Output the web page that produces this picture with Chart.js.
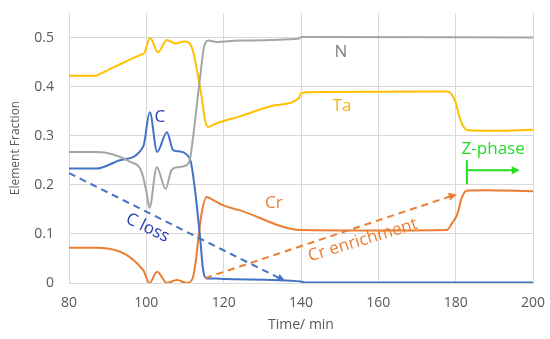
<!DOCTYPE html>
<html>
<head>
<meta charset="utf-8">
<script src="https://cdn.jsdelivr.net/npm/chart.js"></script>
<style>
  body { margin: 0; background: #fff; }
  canvas { display: block; }
</style>
</head>
<body>
<canvas id="myChart" width="550" height="339"></canvas>
<script>
// values (time in min, element fraction)
const timeTa = [80, 87, 87.6, 93, 98.8, 99.4, 101, 103, 105.3, 107.5, 110, 111.5, 112.3, 113.4, 114.3, 115.2, 116, 118, 124, 133.3, 139.5, 140, 145, 177.7, 179.8, 181, 182, 183.2, 190, 200];
const fracTa = [0.422, 0.422, 0.4243, 0.445, 0.4658, 0.468, 0.499, 0.470, 0.495, 0.488, 0.492, 0.485, 0.465, 0.420, 0.379, 0.331, 0.318, 0.325, 0.339, 0.362, 0.377, 0.387, 0.389, 0.390, 0.372, 0.338, 0.319, 0.311, 0.310, 0.312];

const timeN = [80, 87, 95.8, 98.8, 100.1, 100.8, 102.7, 105, 106.5, 108.2, 110.4, 111.3, 112.6, 113.9, 114.9, 116, 118.2, 124, 139.5, 140, 200];
const fracN = [0.267, 0.267, 0.247, 0.226, 0.183, 0.153, 0.236, 0.192, 0.230, 0.236, 0.240, 0.253, 0.331, 0.419, 0.480, 0.494, 0.491, 0.494, 0.498, 0.501, 0.500];

const timeC = [80, 87, 93.2, 99.2, 100.9, 102.8, 105.3, 107, 108.7, 110.4, 111.5, 112.6, 113.9, 114.7, 115.6, 118, 120, 140, 141, 200];
const fracC = [0.233, 0.233, 0.250, 0.278, 0.348, 0.267, 0.307, 0.270, 0.268, 0.262, 0.247, 0.189, 0.093, 0.026, 0.009, 0.009, 0.008, 0.003, 0.001, 0.001];

const timeCr = [80, 87, 99.2, 100.8, 102.8, 105.3, 107.9, 110.5, 112, 112.8, 113.5, 114.3, 115.6, 117.3, 119.9, 124.2, 140, 160, 177.7, 179, 180.5, 181.5, 182.8, 187.6, 200];
const fracCr = [0.072, 0.072, 0.026, 0.0, 0.023, 0.0, 0.006, 0.0, 0.010, 0.045, 0.094, 0.142, 0.175, 0.169, 0.158, 0.148, 0.108, 0.107, 0.108, 0.121, 0.142, 0.172, 0.188, 0.189, 0.187];

const xTicks = [80, 100, 120, 140, 160, 180, 200];
const yTicks = [0, 0.1, 0.2, 0.3, 0.4, 0.5];

// annotation arrows: [x0, y0, x1, y1] in data units
const arrowCLoss = [80, 0.224, 135.9, 0.004];
const arrowCrEnrich = [115.2, 0.010, 180.3, 0.181];
const zPhaseBar = [182.9, 0.250, 0.201];     // x, yTop, yBottom
const zPhaseArrow = [182.9, 0.2297, 196.6];  // x0, y, x1

// text labels: text, x, y, angle (deg)
const labels = [
  { text: 'C', x: 103.5, y: 0.337, angle: 0, color: '#2541b2' },
  { text: 'N', x: 150.3, y: 0.470, angle: 0, color: '#7f7f7f' },
  { text: 'Ta', x: 150.6, y: 0.360, angle: 0, color: '#f5b800' },
  { text: 'Cr', x: 133, y: 0.163, angle: 0, color: '#ed7d31' },
  { text: 'C loss', x: 100.3, y: 0.112, angle: 26, color: '#2541b2' },
  { text: 'Cr enrichment', x: 156, y: 0.087, angle: -17, color: '#ed7d31' },
  { text: 'Z-phase', x: 189.7, y: 0.273, angle: 0, color: '#22dd22' }
];

function toPoints(ts, vs) {
  return ts.map((t, i) => ({ x: t, y: vs[i] }));
}

function arrowHead(ctx, x0, y0, x1, y1, size, color) {
  const a = Math.atan2(y1 - y0, x1 - x0);
  ctx.save();
  ctx.fillStyle = color;
  ctx.beginPath();
  ctx.moveTo(x1, y1);
  ctx.lineTo(x1 - size * Math.cos(a - 0.45), y1 - size * Math.sin(a - 0.45));
  ctx.lineTo(x1 - size * Math.cos(a + 0.45), y1 - size * Math.sin(a + 0.45));
  ctx.closePath();
  ctx.fill();
  ctx.restore();
}

function dashedArrow(ctx, xs, ys, arr, color) {
  const x0 = xs.getPixelForValue(arr[0]), y0 = ys.getPixelForValue(arr[1]);
  const x1 = xs.getPixelForValue(arr[2]), y1 = ys.getPixelForValue(arr[3]);
  const a = Math.atan2(y1 - y0, x1 - x0);
  ctx.save();
  ctx.strokeStyle = color;
  ctx.lineWidth = 2;
  ctx.setLineDash([7, 5]);
  ctx.beginPath();
  ctx.moveTo(x0, y0);
  ctx.lineTo(x1 - 6 * Math.cos(a), y1 - 6 * Math.sin(a));
  ctx.stroke();
  ctx.restore();
  arrowHead(ctx, x0, y0, x1, y1, 9, color);
}

const annotate = {
  id: 'annotate',
  afterDatasetsDraw(chart) {
    const ctx = chart.ctx;
    const xs = chart.scales.x, ys = chart.scales.y;

    dashedArrow(ctx, xs, ys, arrowCLoss, '#4472c4');
    dashedArrow(ctx, xs, ys, arrowCrEnrich, '#ed7d31');

    // Z-phase marker
    const green = '#22dd22';
    const bx = xs.getPixelForValue(zPhaseBar[0]);
    ctx.save();
    ctx.strokeStyle = green;
    ctx.lineWidth = 2;
    ctx.beginPath();
    ctx.moveTo(bx, ys.getPixelForValue(zPhaseBar[1]));
    ctx.lineTo(bx, ys.getPixelForValue(zPhaseBar[2]));
    const ay = ys.getPixelForValue(zPhaseArrow[1]);
    const ax1 = xs.getPixelForValue(zPhaseArrow[2]);
    ctx.moveTo(xs.getPixelForValue(zPhaseArrow[0]), ay);
    ctx.lineTo(ax1 - 6, ay);
    ctx.stroke();
    ctx.restore();
    arrowHead(ctx, bx, ay, ax1, ay, 9, green);

    // text labels
    labels.forEach(l => {
      ctx.save();
      ctx.translate(xs.getPixelForValue(l.x), ys.getPixelForValue(l.y));
      ctx.rotate(l.angle * Math.PI / 180);
      ctx.font = '17px "Open Sans"';
      ctx.fillStyle = l.color;
      ctx.textAlign = 'center';
      ctx.textBaseline = 'middle';
      ctx.fillText(l.text, 0, 0);
      ctx.restore();
    });
  }
};

// drop the label overhang padding so the plot box sits where the reference has it
function noOverhang(axis) {
  axis.paddingTop = 0;
  axis.paddingBottom = 0;
  axis.paddingLeft = 0;
  axis.paddingRight = 0;
}

const lineStyle = { borderWidth: 2, pointRadius: 0, fill: false, cubicInterpolationMode: 'monotone' };

const ctx = document.getElementById('myChart');
new Chart(ctx, {
  type: 'line',
  data: {
    datasets: [
      Object.assign({ label: 'N', data: toPoints(timeN, fracN), borderColor: '#a5a5a5' }, lineStyle),
      Object.assign({ label: 'Ta', data: toPoints(timeTa, fracTa), borderColor: '#ffc000' }, lineStyle),
      Object.assign({ label: 'C', data: toPoints(timeC, fracC), borderColor: '#4472c4' }, lineStyle),
      Object.assign({ label: 'Cr', data: toPoints(timeCr, fracCr), borderColor: '#ed7d31' }, lineStyle)
    ]
  },
  options: {
    responsive: false,
    animation: false,
    devicePixelRatio: 1,
    layout: { padding: { top: 13, right: 17, left: 0, bottom: 0 } },
    plugins: { legend: { display: false }, tooltip: { enabled: false } },
    scales: {
      x: {
        type: 'linear',
        min: xTicks[0],
        max: xTicks[xTicks.length - 1],
        afterBuildTicks: axis => { axis.ticks = xTicks.map(v => ({ value: v })); },
        afterFit: axis => { axis.height = 56; noOverhang(axis); },
        grid: { color: '#d9d9d9', drawTicks: false },
        border: { color: '#d9d9d9' },
        ticks: { padding: 12, color: '#595959', font: { family: 'Open Sans', size: 14 } },
        title: { display: true, text: 'Time/ min', color: '#595959', padding: { top: 0, bottom: 6 }, font: { family: 'Open Sans', size: 14 } }
      },
      y: {
        min: 0,
        max: 0.55,
        afterBuildTicks: axis => { axis.ticks = yTicks.map(v => ({ value: v })); },
        afterFit: axis => { axis.width = 69; noOverhang(axis); },
        grid: { color: '#d9d9d9', drawTicks: false },
        border: { color: '#d9d9d9' },
        ticks: { padding: 15, color: '#595959', font: { family: 'Open Sans', size: 14 } },
        title: { display: true, text: 'Element Fraction', color: '#595959', padding: { top: 8, bottom: 0 }, font: { family: 'Open Sans', size: 12 } }
      }
    }
  },
  plugins: [annotate]
});
</script>
</body>
</html>
